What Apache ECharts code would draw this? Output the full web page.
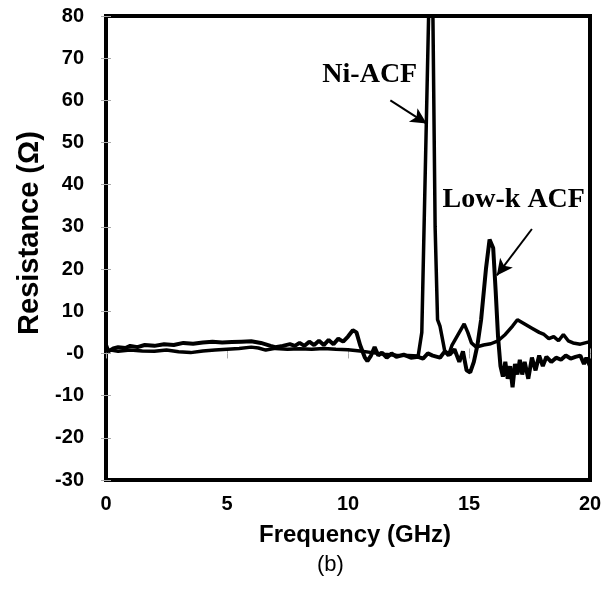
<!DOCTYPE html>
<html><head><meta charset="utf-8">
<script src="https://cdn.jsdelivr.net/npm/echarts@6/dist/echarts.min.js"></script>
<style>html,body{margin:0;padding:0;background:#fff}#c{width:605px;height:608px}</style>
</head><body><div id="c"></div>
<script>
// Frequency (GHz) / Resistance (ohm) pairs
var niFreq = [0.0,0.2,0.5,1.0,1.5,2.0,2.5,3.0,3.5,4.0,4.5,5.0,5.5,6.0,6.3,6.6,7.0,7.5,8.0,8.5,9.0,9.5,10.0,10.5,11.0,11.5,12.0,12.5,12.9,13.05,13.2,13.35,13.5,13.6,13.7,13.8,13.9,14.0,14.15,14.3,14.5,14.6,14.8,14.95,15.1,15.3,15.6,15.9,16.2,16.5,16.8,17.0,17.3,17.6,17.9,18.1,18.3,18.5,18.7,18.9,19.1,19.3,19.6,19.8,20.0];
var niRes  = [0.5,0.8,0.5,0.8,0.6,0.5,0.8,0.4,0.2,0.6,0.8,1.0,1.2,1.5,1.3,0.8,1.2,1.0,1.1,1.0,1.2,1.0,0.9,0.6,0.2,-0.2,-0.4,-0.5,-0.6,5,45,85,85,30,8,6.5,3.5,0.5,-0.5,2.0,4.0,5.0,7.0,5.0,2.5,1.5,2.0,2.3,3.0,4.5,6.5,8.0,7.0,6.0,5.0,4.5,3.5,4.0,3.0,4.5,3.0,2.5,2.2,2.5,2.8];
var lowkFreq = [0.0,0.1,0.3,0.5,0.8,1.0,1.3,1.6,2.0,2.4,2.8,3.2,3.6,4.0,4.4,4.8,5.2,5.6,6.0,6.4,6.8,7.0,7.3,7.6,7.8,8.0,8.2,8.4,8.6,8.8,9.0,9.2,9.4,9.6,9.8,10.0,10.2,10.35,10.5,10.7,10.8,10.95,11.1,11.25,11.4,11.6,11.8,12.0,12.3,12.6,12.9,13.1,13.3,13.5,13.8,14.0,14.2,14.4,14.6,14.75,14.9,15.05,15.2,15.35,15.5,15.7,15.85,16.0,16.1,16.2,16.3,16.4,16.5,16.6,16.7,16.8,16.9,17.0,17.1,17.2,17.3,17.45,17.6,17.75,17.9,18.05,18.2,18.4,18.6,18.8,19.0,19.2,19.4,19.6,19.75,19.85,20.0];
var lowkRes  = [2.0,0.5,1.2,1.5,1.3,1.8,1.5,2.0,1.8,2.2,2.0,2.5,2.3,2.6,2.8,2.6,2.7,2.8,2.9,2.5,1.8,1.5,1.8,2.2,1.8,2.5,1.8,2.8,2.0,3.0,2.0,3.2,2.2,3.5,2.8,4.0,5.5,5.0,2.0,-1.0,-1.8,-0.5,1.5,-0.5,0.2,-1.0,0.0,-0.8,-0.3,-1.0,-0.8,-1.2,0.0,-0.5,-1.0,0.5,-0.3,1.0,-2.0,0.5,-4.0,-4.5,-2.0,2.0,8.0,20.0,27.0,25.0,15.0,4.0,-3.0,-5.5,-2.0,-6.0,-3.0,-8.0,-2.5,-5.0,-1.5,-5.0,-2.0,-6.0,-1.0,-4.0,-0.5,-3.0,-0.8,-2.0,-1.0,-1.5,-0.5,-1.2,-0.8,-0.5,-2.5,-1.0,-3.0];
var yTickValues = [80,70,60,50,40,30,20,10,0,-10,-20,-30];
var yTickLabels = ['80','70','60','50','40','30','20','10','-0','-10','-20','-30'];
var xTickLabels = ['0','5','10','15','20'];

function pairs(xs, ys){ return xs.map(function(x,i){return [x, ys[i]];}); }
function yLabel(v){ var i = yTickValues.indexOf(v); return i>=0 ? yTickLabels[i] : ''; }

var chart = echarts.init(document.getElementById('c'), null, {renderer:'canvas'});
var tickStyle = {show:true, inside:true, length:5, lineStyle:{color:'#aaaaaa', width:1}};
var lblFont = {fontFamily:'Liberation Sans, Arial', fontWeight:'bold', fontSize:20, color:'#000'};
chart.setOption({
  animation:false,
  grid:{left:106, right:15, top:16, bottom:128, show:true, borderColor:'#000', borderWidth:4, backgroundColor:'#fff'},
  title:{text:'(b)', left:312, top:549, textStyle:{fontFamily:'Liberation Sans, Arial', fontWeight:'normal', fontSize:22, color:'#000'}},
  xAxis:[{type:'value', min:0, max:20, interval:5, position:'bottom',
    axisLine:{show:false}, axisTick:tickStyle, splitLine:{show:false},
    axisLabel:Object.assign({margin:14, formatter:function(v){return xTickLabels[v/5];}}, lblFont),
    name:'Frequency (GHz)', nameLocation:'middle', nameGap:43,
    nameTextStyle:{fontFamily:'Liberation Sans, Arial', fontWeight:'bold', fontSize:24, color:'#000', padding:[0,0,0,14]}},
   {type:'value', min:0, max:20, interval:5, position:'top', axisLine:{show:false}, axisTick:tickStyle, axisLabel:{show:false}, splitLine:{show:false}}],
  yAxis:[{type:'value', min:-30, max:80, interval:10, position:'left',
    axisLine:{show:false}, axisTick:tickStyle, splitLine:{show:false},
    axisLabel:Object.assign({margin:22, formatter:yLabel}, lblFont),
    name:'Resistance (Ω)', nameLocation:'middle', nameGap:61, nameRotate:90,
    nameTextStyle:{fontFamily:'Liberation Sans, Arial', fontWeight:'bold', fontSize:29, color:'#000', padding:[0,0,0,30]}},
   {type:'value', min:-30, max:80, interval:10, position:'right', axisLine:{show:false}, axisTick:tickStyle, axisLabel:{show:false}, splitLine:{show:false}}],
  series:[
    {type:'line', name:'Ni-ACF', data:pairs(niFreq, niRes), showSymbol:false, clip:true,
     lineStyle:{color:'#000', width:3.5}, z:3,
     markLine:{silent:true, symbol:['none','arrow'], symbolSize:[12,16], lineStyle:{color:'#000', width:2, type:'solid'}, label:{show:false},
       data:[[{coord:[11.75,60]},{coord:[13.25,54.5]}]]},
     markPoint:{silent:true, symbol:'rect', symbolSize:1, itemStyle:{color:'rgba(0,0,0,0)'},
       label:{show:true, formatter:'Ni-ACF', fontFamily:'Liberation Serif, Times New Roman', fontWeight:'bold', fontSize:28, color:'#000', position:'inside'},
       data:[{coord:[10.9,66]}]}},
    {type:'line', name:'Low-k ACF', data:pairs(lowkFreq, lowkRes), showSymbol:false, clip:true,
     lineStyle:{color:'#000', width:4}, z:3,
     markLine:{silent:true, symbol:['none','arrow'], symbolSize:[12,16], lineStyle:{color:'#000', width:2, type:'solid'}, label:{show:false},
       data:[[{coord:[17.6,29.5]},{coord:[16.15,18.5]}]]},
     markPoint:{silent:true, symbol:'rect', symbolSize:1, itemStyle:{color:'rgba(0,0,0,0)'},
       label:{show:true, formatter:'Low-k ACF', fontFamily:'Liberation Serif, Times New Roman', fontWeight:'bold', fontSize:28, color:'#000', position:'inside'},
       data:[{coord:[16.85,36.5]}]}}
  ]
});
</script></body></html>
